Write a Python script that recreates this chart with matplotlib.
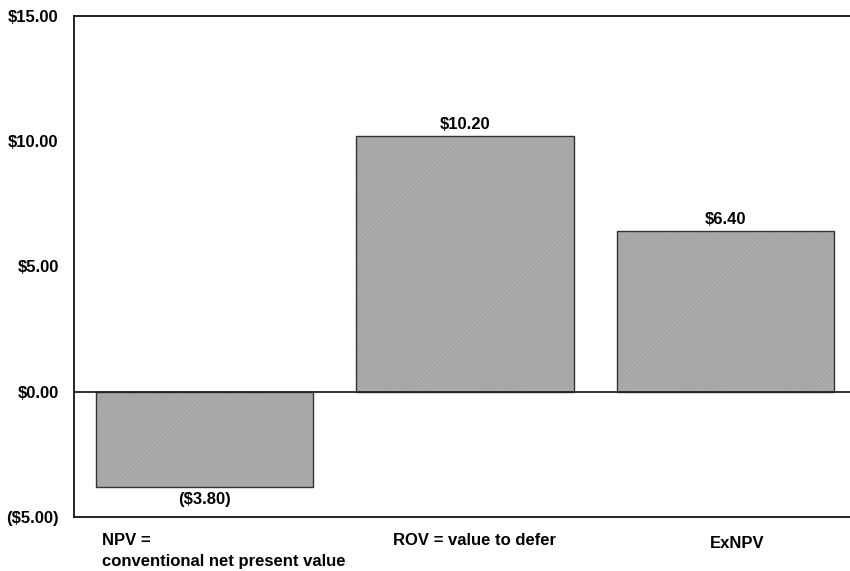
import matplotlib
matplotlib.use("Agg")
import matplotlib.pyplot as plt
from matplotlib.ticker import FuncFormatter
import matplotlib.transforms as mtransforms

categories = ["NPV =\nconventional net present value", "ROV = value to defer", "ExNPV"]
values = [-3.80, 10.20, 6.40]
y_ticks = [-5, 0, 5, 10, 15]

plt.rcParams["font.family"] = ["Liberation Sans", "DejaVu Sans"]
plt.rcParams["font.weight"] = "bold"
plt.rcParams["hatch.linewidth"] = 0.5

FS = 12
BAR_W = 0.833


def money(v, pos=None):
    if v < 0:
        return f"(${abs(v):.2f})"
    return f"${v:.2f}"


fig = plt.figure(figsize=(8.5, 5.71), dpi=100)
W, H = 850, 571
left, right, top, bottom = 74, 856, 16, 517
ax = fig.add_axes([left / W, 1 - bottom / H, (right - left) / W, (bottom - top) / H])

x = list(range(len(values)))
# textured fill (hatch takes the edge colour), then a dark outline on top
ax.bar(x, values, width=BAR_W, color="#acacac", edgecolor="#9c9c9c",
       linewidth=0, hatch="////////", zorder=2)
ax.bar(x, values, width=BAR_W, fill=False, edgecolor="#333333",
       linewidth=1.0, zorder=2.5)

ax.set_xlim(-0.5, 2.5)
ax.set_ylim(-5, 15)
ax.set_yticks(y_ticks)
ax.yaxis.set_major_formatter(FuncFormatter(money))
ax.tick_params(axis="y", length=0, pad=11, labelsize=FS)
ax.set_xticks([])

for side in ["left", "top", "bottom"]:
    ax.spines[side].set_linewidth(1.3)
    ax.spines[side].set_color("#111111")
ax.spines["right"].set_visible(False)

ax.axhline(0, color="#222222", linewidth=1.3, zorder=3)

for xi, v in zip(x, values):
    if v >= 0:
        ax.annotate(money(v), (xi, v), xytext=(0, 3), textcoords="offset points",
                    ha="center", va="bottom", fontsize=FS, fontweight="bold")
    else:
        ax.annotate(money(v), (xi, v), xytext=(0, -4), textcoords="offset points",
                    ha="center", va="top", fontsize=FS, fontweight="bold")

# Category captions below the plot area
trans = mtransforms.blended_transform_factory(ax.transData, ax.transAxes)
label_dx = [-0.393, -0.275, -0.062]
label_y = [-0.068, -0.046, -0.052]
for xi, lab, dx, ly in zip(x, categories, label_dx, label_y):
    ax.text(xi + dx, ly, lab, transform=trans, ha="left", va="center",
            fontsize=FS, fontweight="bold", linespacing=1.5, clip_on=False)

fig.savefig("out.png", dpi=100)
